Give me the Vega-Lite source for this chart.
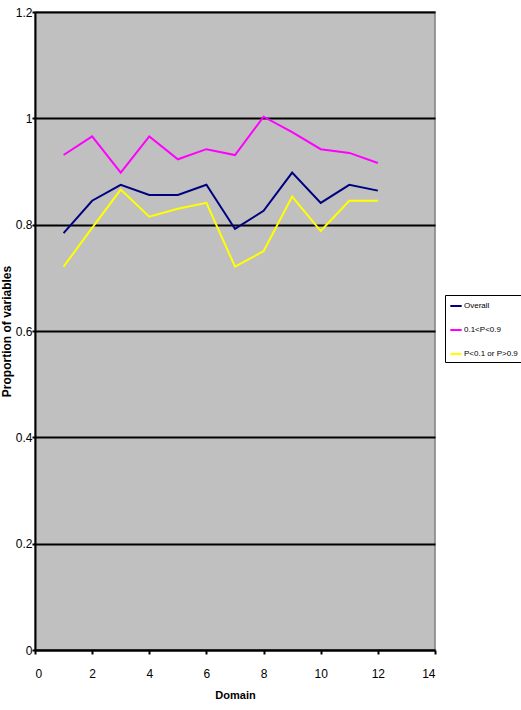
{
  "$schema": "https://vega.github.io/schema/vega-lite/v6.json",
  "width": 400,
  "height": 638,
  "autosize": {"type": "none"},
  "padding": {"left": 35, "top": 12, "right": 86, "bottom": 60},
  "background": "white",
  "config": {
    "font": "Liberation Sans",
    "view": {"fill": "#C0C0C0", "stroke": "#808080", "strokeWidth": 1.5}
  },
  "data": {
    "values": [
      {"domain": 1, "series": "Overall", "prop": 0.784},
      {"domain": 2, "series": "Overall", "prop": 0.845},
      {"domain": 3, "series": "Overall", "prop": 0.875},
      {"domain": 4, "series": "Overall", "prop": 0.856},
      {"domain": 5, "series": "Overall", "prop": 0.856},
      {"domain": 6, "series": "Overall", "prop": 0.875},
      {"domain": 7, "series": "Overall", "prop": 0.792},
      {"domain": 8, "series": "Overall", "prop": 0.826},
      {"domain": 9, "series": "Overall", "prop": 0.898},
      {"domain": 10, "series": "Overall", "prop": 0.841},
      {"domain": 11, "series": "Overall", "prop": 0.875},
      {"domain": 12, "series": "Overall", "prop": 0.864},
      {"domain": 1, "series": "0.1<P<0.9", "prop": 0.931},
      {"domain": 2, "series": "0.1<P<0.9", "prop": 0.966},
      {"domain": 3, "series": "0.1<P<0.9", "prop": 0.898},
      {"domain": 4, "series": "0.1<P<0.9", "prop": 0.966},
      {"domain": 5, "series": "0.1<P<0.9", "prop": 0.923},
      {"domain": 6, "series": "0.1<P<0.9", "prop": 0.942},
      {"domain": 7, "series": "0.1<P<0.9", "prop": 0.931},
      {"domain": 8, "series": "0.1<P<0.9", "prop": 1.003},
      {"domain": 9, "series": "0.1<P<0.9", "prop": 0.974},
      {"domain": 10, "series": "0.1<P<0.9", "prop": 0.942},
      {"domain": 11, "series": "0.1<P<0.9", "prop": 0.935},
      {"domain": 12, "series": "0.1<P<0.9", "prop": 0.916},
      {"domain": 1, "series": "P<0.1 or P>0.9", "prop": 0.721},
      {"domain": 2, "series": "P<0.1 or P>0.9", "prop": 0.794},
      {"domain": 3, "series": "P<0.1 or P>0.9", "prop": 0.866},
      {"domain": 4, "series": "P<0.1 or P>0.9", "prop": 0.815},
      {"domain": 5, "series": "P<0.1 or P>0.9", "prop": 0.830},
      {"domain": 6, "series": "P<0.1 or P>0.9", "prop": 0.841},
      {"domain": 7, "series": "P<0.1 or P>0.9", "prop": 0.721},
      {"domain": 8, "series": "P<0.1 or P>0.9", "prop": 0.750},
      {"domain": 9, "series": "P<0.1 or P>0.9", "prop": 0.853},
      {"domain": 10, "series": "P<0.1 or P>0.9", "prop": 0.788},
      {"domain": 11, "series": "P<0.1 or P>0.9", "prop": 0.845},
      {"domain": 12, "series": "P<0.1 or P>0.9", "prop": 0.845}
    ]
  },
  "mark": {"type": "line", "strokeWidth": 2},
  "encoding": {
    "x": {
      "field": "domain",
      "type": "quantitative",
      "scale": {"domain": [0, 14], "nice": false, "zero": true},
      "axis": {
        "title": "Domain",
        "values": [0, 2, 4, 6, 8, 10, 12, 14],
        "grid": false,
        "domainColor": "black",
        "domainWidth": 2,
        "tickColor": "black",
        "tickWidth": 2,
        "tickSize": 4,
        "labelPadding": 14,
        "labelFontSize": 12,
        "labelColor": "black",
        "titleFontSize": 11,
        "titleFontWeight": "bold",
        "titleColor": "black",
        "titlePadding": 10
      }
    },
    "y": {
      "field": "prop",
      "type": "quantitative",
      "scale": {"domain": [0, 1.2], "nice": false},
      "axis": {
        "title": "Proportion of variables",
        "values": [0, 0.2, 0.4, 0.6, 0.8, 1, 1.2],
        "labelExpr": "toString(datum.value)",
        "grid": true,
        "gridColor": "black",
        "gridWidth": 2,
        "gridOpacity": 1,
        "domainColor": "black",
        "domainWidth": 2,
        "tickColor": "black",
        "tickWidth": 2,
        "tickSize": 3,
        "labelPadding": 0,
        "labelFontSize": 12,
        "labelColor": "black",
        "titleFontSize": 12,
        "titleFontWeight": "bold",
        "titleColor": "black",
        "titlePadding": 2
      }
    },
    "color": {
      "field": "series",
      "type": "nominal",
      "sort": ["Overall", "0.1<P<0.9", "P<0.1 or P>0.9"],
      "scale": {
        "domain": ["Overall", "0.1<P<0.9", "P<0.1 or P>0.9"],
        "range": ["#000080", "#FF00FF", "#FFFF00"]
      },
      "legend": {
        "title": null,
        "orient": "none",
        "legendX": 410,
        "legendY": 283,
        "symbolType": "stroke",
        "symbolStrokeWidth": 2,
        "symbolSize": 130,
        "labelFontSize": 8,
        "labelColor": "black",
        "labelOffset": 1,
        "labelLimit": 90,
        "rowPadding": 13,
        "padding": 4,
        "strokeColor": "black",
        "fillColor": "white"
      }
    }
  }
}
